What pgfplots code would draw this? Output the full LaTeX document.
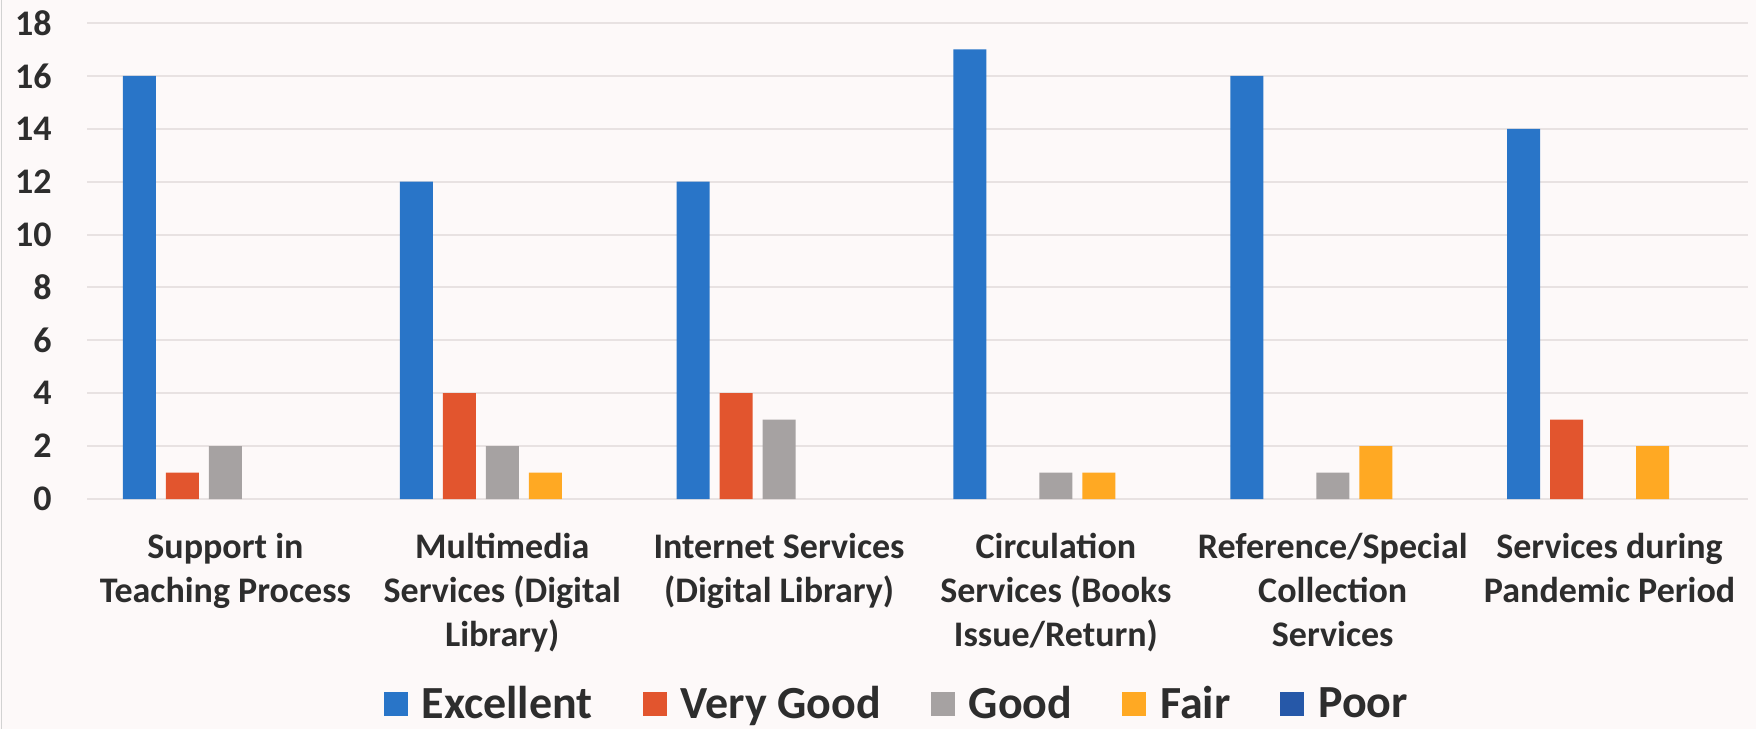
\documentclass[border=0pt]{standalone}
\usepackage{fontspec}
\setmainfont{Carlito}
\usepackage{pgfplots}
\pgfplotsset{compat=1.18}
\definecolor{cExc}{RGB}{41,117,200}
\definecolor{cVG}{RGB}{226,85,46}
\definecolor{cGood}{RGB}{166,162,162}
\definecolor{cFair}{RGB}{255,169,35}
\definecolor{cPoor}{RGB}{38,88,168}
\definecolor{bgcol}{RGB}{253,249,249}
\definecolor{gridcol}{RGB}{232,226,226}
\definecolor{labcol}{RGB}{45,45,45}
\pgfplotsset{sqlegend/.style={legend image code/.code={\fill[#1] (0pt,-6pt) rectangle (12pt,6pt);}}}
\begin{document}
\begin{tikzpicture}
\useasboundingbox (0,0) rectangle (878pt,364.5pt);
\fill[bgcol] (0,0) rectangle (878pt,364.5pt);
\draw[gray!35, line width=0.8pt] (0.8pt,0) -- (0.8pt,364.5pt);
\begin{axis}[
  at={(43.5pt,115pt)}, anchor=south west,
  scale only axis, width=830.5pt, height=238pt,
  xmin=-0.5, xmax=5.5, ymin=0, ymax=18,
  ybar=5pt, bar width=16.5pt,
  axis line style={draw=none}, tick style={draw=none}, major tick length=0pt,
  ytick={0,2,...,18},
  xtick={0,1,2,3,4,5},
  xticklabels={{Support in\\Teaching Process},{Multimedia\\Services (Digital\\Library)},{Internet Services\\(Digital Library)},{Circulation\\Services (Books\\Issue/Return)},{Reference/Special\\Collection\\Services},{Services during\\Pandemic Period}},
  ymajorgrids, grid style={gridcol, line width=1pt},
  /pgf/number format/assume math mode=true,
  yticklabel style={anchor=east, inner sep=0pt, xshift=-17.5pt, font=\fontsize{18}{22}\selectfont\bfseries, text=labcol},
  xticklabel style={anchor=north, align=center, inner sep=0pt, yshift=-17pt, font=\fontsize{18}{22}\selectfont\bfseries, text=labcol},
  legend columns=5,
  legend style={at={(0.487,-0.469)}, anchor=south, draw=none, fill=none, inner sep=0pt,
    font=\fontsize{23}{27}\selectfont\bfseries, text=labcol,
    nodes={inner sep=0pt},
    /tikz/every odd column/.append style={column sep=7pt},
    /tikz/every even column/.append style={column sep=25pt}},
  clip=false,
]
\addplot[fill=cExc, draw=none, sqlegend={fill=cExc}] coordinates {(0,16) (1,12) (2,12) (3,17) (4,16) (5,14)};
\addplot[fill=cVG, draw=none, sqlegend={fill=cVG}] coordinates {(0,1) (1,4) (2,4) (5,3)};
\addplot[fill=cGood, draw=none, sqlegend={fill=cGood}] coordinates {(0,2) (1,2) (2,3) (3,1) (4,1)};
\addplot[fill=cFair, draw=none, sqlegend={fill=cFair}] coordinates {(1,1) (3,1) (4,2) (5,2)};
\addplot[fill=none, draw=none, sqlegend={fill=cPoor}] coordinates {(0,0) (1,0) (2,0) (3,0) (4,0) (5,0)};
\legend{Excellent, Very Good, Good, Fair, Poor}
\end{axis}
\end{tikzpicture}
\end{document}
